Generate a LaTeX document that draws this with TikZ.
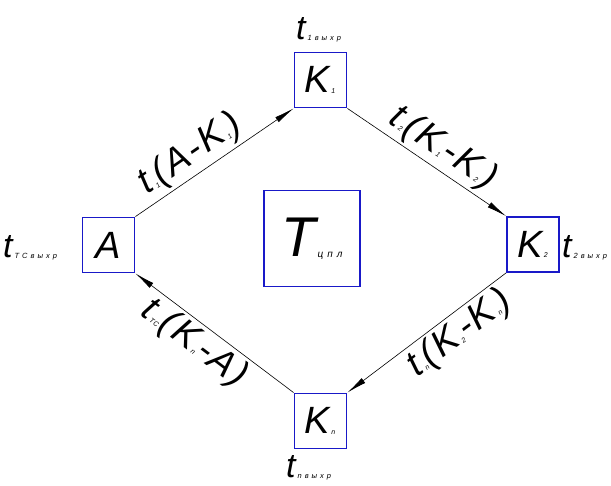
\documentclass[tikz,border=0pt]{standalone}
\usepackage{fontspec}
\setmainfont{Liberation Sans}
\newfontfamily\spacedfont{Liberation Sans}[LetterSpace=6]
\newfontfamily\widefont{Liberation Sans}[LetterSpace=40]
\usetikzlibrary{arrows.meta}
\definecolor{boxblue}{RGB}{25,25,200}
\newcommand{\sbs}[1]{\kern1.5pt\raisebox{-0.5pt}{\fontsize{7}{7}\selectfont\itshape #1}\kern1pt}
\newcommand{\nsbs}[1]{\kern2pt\raisebox{-0.5pt}{\widefont\fontsize{7.5}{7.5}\selectfont\itshape #1}}
\newcommand{\lsbs}[1]{\kern2pt\raisebox{-0.5pt}{\widefont\fontsize{10}{10}\selectfont\itshape #1}}
\tikzset{
  vbox/.style={draw=boxblue, line width=1.8pt, minimum width=52pt, minimum height=55pt, inner sep=0pt,
    font=\fontsize{38}{38}\selectfont\itshape},
  tbox/.style={draw=boxblue, line width=1.8pt, minimum width=96pt, minimum height=96pt, inner sep=0pt,
    font=\fontsize{56}{56}\selectfont\itshape},
  tlab/.style={inner sep=0pt, font=\fontsize{34}{34}\selectfont\itshape},
  elab/.style={inner sep=3pt, font=\spacedfont\fontsize{37}{37}\selectfont\itshape, sloped},
  conn/.style={draw=black, line width=0.6pt, -{Latex[length=20pt,width=6pt]}}
}
\begin{document}
\begin{tikzpicture}[x=1pt,y=-1pt]
\useasboundingbox (0,0) rectangle (611,486);
\node[vbox] (A) at (108.5,245) {A};
\node[vbox] (K1) at (320.5,80) {K\sbs{1}};
\node[vbox] (K2) at (533,244.5) {K\sbs{2}};
\node[vbox] (Kn) at (320.5,421) {K\sbs{n}};
\node[tbox] (T) at (312,238.5) {T\lsbs{цпл}};
\node[tlab, anchor=base west] (lK1) at (296,40) {t\nsbs{1выхр}};
\node[tlab, anchor=base west] (lA) at (3,258) {t\nsbs{ТСвыхр}};
\node[tlab, anchor=base west] (lK2) at (562,258) {t\nsbs{2выхр}};
\node[tlab, anchor=base west] (lKn) at (286,478) {t\nsbs{nвыхр}};
\draw[conn] (A.north east) -- node[elab, above, pos=0.42] (e1) {t\sbs{1}(A-K\sbs{1})} (K1.south west);
\draw[conn] (K1.south east) -- node[elab, above, pos=0.53] (e2) {t\sbs{2}(K\sbs{1}-K\sbs{2})} (K2.north west);
\draw[conn] (K2.south west) -- node[elab, below, pos=0.37] (e3) {t\sbs{n}(K\sbs{2}-K\sbs{n})} (Kn.north east);
\draw[conn] (Kn.north west) -- node[elab, below, pos=0.55] (e4) {t\sbs{ТС}(K\sbs{n}-A)} (A.south east);
\end{tikzpicture}
\end{document}
